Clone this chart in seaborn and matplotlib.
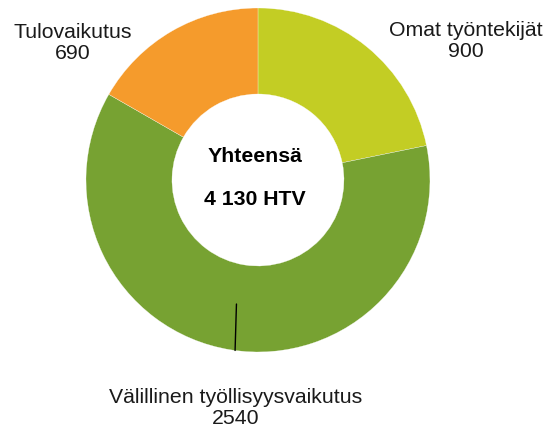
import matplotlib
matplotlib.use("Agg")
import matplotlib.pyplot as plt
import numpy as np
import seaborn as sns

# ── Data ───────────────────────────────────────────────────────────────────
categories = ["Omat työntekijät", "Välillinen työllisyysvaikutus", "Tulovaikutus"]
values = [900, 2540, 690]
colors = ["#C3CD24", "#77A232", "#F59B2C"]
center_title = "Yhteensä"
unit = "HTV"

# label centres in data units (radius = 1)
label_pos = [(1.209, 0.808), (-0.128, -1.326), (-1.076, 0.797)]

# ── Style ──────────────────────────────────────────────────────────────────
sns.set_theme(style="white")
plt.rcParams["font.family"] = ["Liberation Sans", "DejaVu Sans"]
FS = 15.3

fig = plt.figure(figsize=(5.44, 4.33), dpi=100)
ax = fig.add_axes([0, 0, 1, 1])

wedges, _ = ax.pie(
    values, colors=colors, startangle=90, counterclock=False,
    radius=1.0, wedgeprops=dict(width=0.5, edgecolor="white", linewidth=0.2),
)

# outside labels
for (x, y), name, v in zip(label_pos, categories, values):
    ax.text(x, y, f"{name}\n{v}", ha="center", va="center",
            fontsize=FS, color="#1a1a1a", linespacing=1.1)

# leader line of the large slice (near-vertical stub to the outer edge)
w = wedges[1]
mid = np.deg2rad((w.theta1 + w.theta2) / 2 + 1.5)
x_end, y_end = np.cos(mid), np.sin(mid)
ax.plot([x_end + 0.008, x_end], [y_end + 0.27, y_end], color="black", lw=1)

# centre text
total = sum(values)
ax.text(-0.02, 0.134, center_title, ha="center", va="center",
        fontsize=FS, fontweight="bold", color="black")
ax.text(-0.02, -0.116, f"{total:,} {unit}".replace(",", " "), ha="center",
        va="center", fontsize=FS, fontweight="bold", color="black")

ax.set_xlim(-1.5, 1.663)
ax.set_ylim(-1.471, 1.0465)
ax.set_aspect("auto")
ax.axis("off")

fig.savefig("out.png", dpi=100)
plt.close(fig)
